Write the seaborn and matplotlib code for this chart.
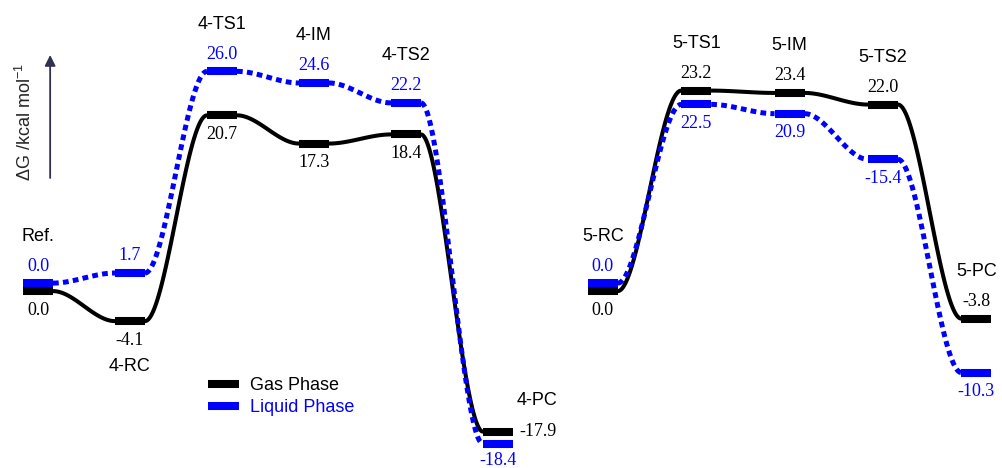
import numpy as np
import pandas as pd
import matplotlib
matplotlib.use("Agg")
import matplotlib.pyplot as plt
from matplotlib.lines import Line2D
import seaborn as sns

# free energies (kcal/mol)
states4 = ["Ref.", "4-RC", "4-TS1", "4-IM", "4-TS2", "4-PC"]
gas4 = [0.0, -4.1, 20.7, 17.3, 18.4, -17.9]
liquid4 = [0.0, 1.7, 26.0, 24.6, 22.2, -18.4]
liquid4_text = ["0.0", "1.7", "26.0", "24.6", "22.2", "-18.4"]

states5 = ["5-RC", "5-TS1", "5-IM", "5-TS2", "5-PC"]
gas5 = [0.0, 23.2, 23.4, 22.0, -3.8]
liquid5 = [0.0, 22.5, 20.9, 15.4, -10.3]
# printed labels (5-TS2 liquid level carries a minus sign in the source figure)
liquid5_text = ["0.0", "22.5", "20.9", "-15.4", "-10.3"]

GAS = "#000000"
LIQ = "#0000ff"
SANS = "Liberation Sans"
SERIF = "Liberation Serif"
FS = 13

sns.set_theme(style="white")
plt.rcParams["font.family"] = [SANS, "DejaVu Sans"]
plt.rcParams["mathtext.fontset"] = "custom"
plt.rcParams["mathtext.rm"] = SANS

fig = plt.figure(figsize=(10.03, 4.68), dpi=100)
ax = fig.add_axes([0, 0, 1, 1])
ylo, yhi = -21.8, 34.6
ax.set_xlim(-0.413, 10.49)
ax.set_ylim(ylo, yhi)
ax.axis("off")

px = fig.bbox.height / (yhi - ylo)   # pixels per kcal/mol
half = 0.163                         # half width of a level bar
nudge = 4 / px                       # keep near-equal levels visible


def label(x, y, s, dx, dy, color, family, ha="center"):
    ax.annotate(s, xy=(x, y), xytext=(dx, dy), textcoords="offset pixels",
                ha=ha, va="center", color=color, fontsize=FS, family=family)


def panel(names, gas, liq, liq_text, x0, step, name_place, gas_right_last=False):
    xs = x0 + step * np.arange(len(names))
    g = np.array(gas, float)
    l = np.array(liq, float)
    close = np.abs(g - l) < 1.0
    liq_up = l >= g
    gy = g + np.where(close, np.where(liq_up, -nudge, nudge), 0)
    ly = l + np.where(close, np.where(liq_up, nudge, -nudge), 0)

    # smooth connectors between consecutive levels
    t = np.linspace(0, 1, 60)
    s = 3 * t**2 - 2 * t**3
    rows = []
    for phase, ys in (("gas", gy), ("liquid", ly)):
        for i in range(len(xs) - 1):
            xa, xb = xs[i] + half, xs[i + 1] - half
            for tt, ss in zip(t, s):
                rows.append((phase, f"{phase}{i}", xa + (xb - xa) * tt,
                             ys[i] + (ys[i + 1] - ys[i]) * ss))
    df = pd.DataFrame(rows, columns=["phase", "seg", "x", "y"])

    sns.lineplot(data=df[df.phase == "gas"], x="x", y="y", units="seg",
                 estimator=None, sort=False, color=GAS, lw=2.9, ax=ax,
                 legend=False)
    sns.lineplot(data=df[df.phase == "liquid"], x="x", y="y", units="seg",
                 estimator=None, sort=False, color=LIQ, lw=3.6, ax=ax,
                 legend=False, linestyle=(0, (1.15, 0.85)), dash_capstyle="butt")

    ax.hlines(gy, xs - half, xs + half, color=GAS, lw=5.8, zorder=3)
    ax.hlines(ly, xs - half, xs + half, color=LIQ, lw=5.8, zorder=4)

    gas_text = [f"{v:.1f}" for v in gas]
    for i, x in enumerate(xs):
        last = i == len(xs) - 1
        if gas_right_last and last:
            label(x + half, gy[i], gas_text[i], 6, 0, GAS, SERIF, ha="left")
            label(x, ly[i], liq_text[i], 0, -17, LIQ, SERIF)
        elif ly[i] > gy[i]:
            label(x, ly[i], liq_text[i], 0, 17, LIQ, SERIF)
            label(x, gy[i], gas_text[i], 0, -19, GAS, SERIF)
        else:
            label(x, gy[i], gas_text[i], 0, 17, GAS, SERIF)
            label(x, ly[i], liq_text[i], 0, -19, LIQ, SERIF)

        top, bot = max(gy[i], ly[i]), min(gy[i], ly[i])
        place = name_place[i]
        if place == "above":
            label(x, top, names[i], 0, 47, GAS, SANS)
        elif place == "below":
            label(x, bot, names[i], 0, -45, GAS, SANS)
        else:
            label(x + half, gy[i], names[i], 4, 31, GAS, SANS, ha="left")


panel(states4, gas4, liquid4, liquid4_text, 0.0, 1.0,
      ["above", "below", "above", "above", "above", "right"],
      gas_right_last=True)
panel(states5, gas5, liquid5, liquid5_text, 6.14, 1.015,
      ["above", "above", "above", "above", "above"])

# energy axis arrow
ax.annotate("", xy=(0.05, 1 - 55 / 468), xytext=(0.05, 1 - 178 / 468),
            xycoords="figure fraction", textcoords="figure fraction",
            arrowprops=dict(arrowstyle="-|>", color="#303050", lw=1.3,
                            mutation_scale=16, shrinkA=0, shrinkB=0))
fig.text(0.025, 1 - 122 / 468, r"ΔG /kcal mol$^{\mathrm{-1}}$", rotation=90,
         ha="center", va="center", fontsize=FS, family=SANS)

handles = [Line2D([], [], color=GAS, lw=5.8, solid_capstyle="butt"),
           Line2D([], [], color=LIQ, lw=5.8, solid_capstyle="butt")]
fig.legend(handles, ["Gas Phase", "Liquid Phase"], loc="upper left",
           bbox_to_anchor=(208 / 1003, 1 - 377 / 468), frameon=False,
           fontsize=FS, handlelength=1.7, handletextpad=0.65,
           labelspacing=0.3, borderpad=0, borderaxespad=0,
           labelcolor="linecolor")

fig.savefig("out.png", dpi=100)
